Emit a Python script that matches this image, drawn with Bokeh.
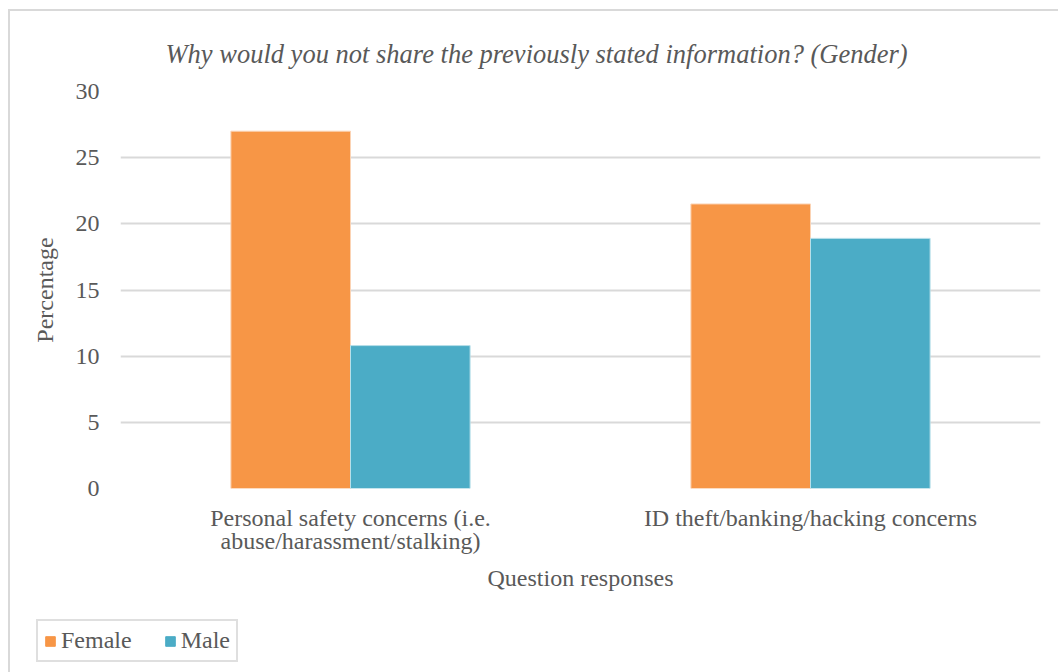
from bokeh.plotting import figure
from bokeh.layouts import column
from bokeh.models import ColumnDataSource, FactorRange, Range1d, Legend, LegendItem, SingleIntervalTicker
from bokeh.transform import dodge
from bokeh.embed import file_html
from bokeh.resources import INLINE

categories = ["Personal safety concerns (i.e.\nabuse/harassment/stalking)", "ID theft/banking/hacking concerns"]
female = [27.0, 21.5]
male = [10.8, 18.9]
series = ["Female", "Male"]
colors = ["#F79646", "#4BACC6"]
edge_colors = ["#fbd3b4", "#b7dfe9"]

FONT = "Liberation Serif"
GREY = "#595959"

src = ColumnDataSource(dict(cat=categories, Female=female, Male=male))

p = figure(width=1048, height=604, x_range=FactorRange(*categories, range_padding=0),
           y_range=Range1d(0, 30), output_backend="svg", toolbar_location=None,
           min_border_left=110, min_border_right=18, min_border_top=80, min_border_bottom=127,
           title="Why would you not share the previously stated information? (Gender)")
p.frame_align = False

r1 = p.vbar(x=dodge("cat", -0.13, range=p.x_range), top="Female", width=0.26, source=src,
            fill_color=colors[0], line_color=edge_colors[0], line_width=1)
r2 = p.vbar(x=dodge("cat", 0.13, range=p.x_range), top="Male", width=0.26, source=src,
            fill_color=colors[1], line_color=edge_colors[1], line_width=1)

p.title.align = "left"
p.title.offset = 45
p.title.text_font = FONT
p.title.text_font_style = "italic"
p.title.text_font_size = "26.5px"
p.title.text_color = GREY
p.title.standoff = 46

p.outline_line_color = None
p.xgrid.grid_line_color = None
p.ygrid.grid_line_color = "#d9d9d9"
p.ygrid.grid_line_width = 2
p.yaxis.ticker = SingleIntervalTicker(interval=5)

for ax in (p.xaxis[0], p.yaxis[0]):
    ax.axis_line_color = None
    ax.major_tick_line_color = None
    ax.minor_tick_line_color = None
    ax.major_label_text_font = FONT
    ax.major_label_text_font_size = "24px"
    ax.major_label_text_color = GREY
    ax.axis_label_text_font = FONT
    ax.axis_label_text_font_size = "24px"
    ax.axis_label_text_color = GREY
    ax.axis_label_text_font_style = "normal"

p.yaxis.axis_label = "Percentage"
p.yaxis.major_label_standoff = 15
p.yaxis.axis_label_standoff = 15
p.xaxis.axis_label = "Question responses"
p.xaxis.major_label_standoff = 10
p.xaxis.axis_label_standoff = 8
p.xaxis.major_label_text_line_height = 0.9

# legend strip below the chart: a frame-filling figure whose swatch renderers are zero-height
leg = figure(width=1048, height=57, output_backend="svg", toolbar_location=None,
             x_axis_type=None, y_axis_type=None,
             min_border_left=0, min_border_right=0, min_border_top=0, min_border_bottom=0,
             x_range=Range1d(0, 1), y_range=Range1d(0, 1))
leg.frame_align = False
leg.outline_line_color = None
leg.xgrid.grid_line_color = None
leg.ygrid.grid_line_color = None
swatch = ColumnDataSource(dict(x=[0.0], top=[0.0]))
l1 = leg.vbar(x="x", top="top", width=0.0, source=swatch, fill_color=colors[0], line_color=colors[0])
l2 = leg.vbar(x="x", top="top", width=0.0, source=swatch, fill_color=colors[1], line_color=colors[1])
legend = Legend(items=[LegendItem(label=series[0], renderers=[l1]),
                       LegendItem(label=series[1], renderers=[l2])],
                orientation="horizontal", location=(26, 10))
legend.label_text_font = FONT
legend.label_text_font_size = "24px"
legend.label_text_color = GREY
legend.glyph_width = 12
legend.glyph_height = 12
legend.border_line_color = "#bfbfbf"
legend.border_line_width = 2
legend.padding = 6
legend.spacing = 32
legend.label_standoff = 5
legend.margin = 0
legend.background_fill_alpha = 1
leg.add_layout(legend, "center")

layout = column(p, leg, spacing=0)
layout.margin = (9, 0, 0, 8)
layout.styles = {"border-left": "2px solid #d9d9d9", "border-top": "2px solid #d9d9d9"}

open("out.html", "w").write(file_html(layout, INLINE))
